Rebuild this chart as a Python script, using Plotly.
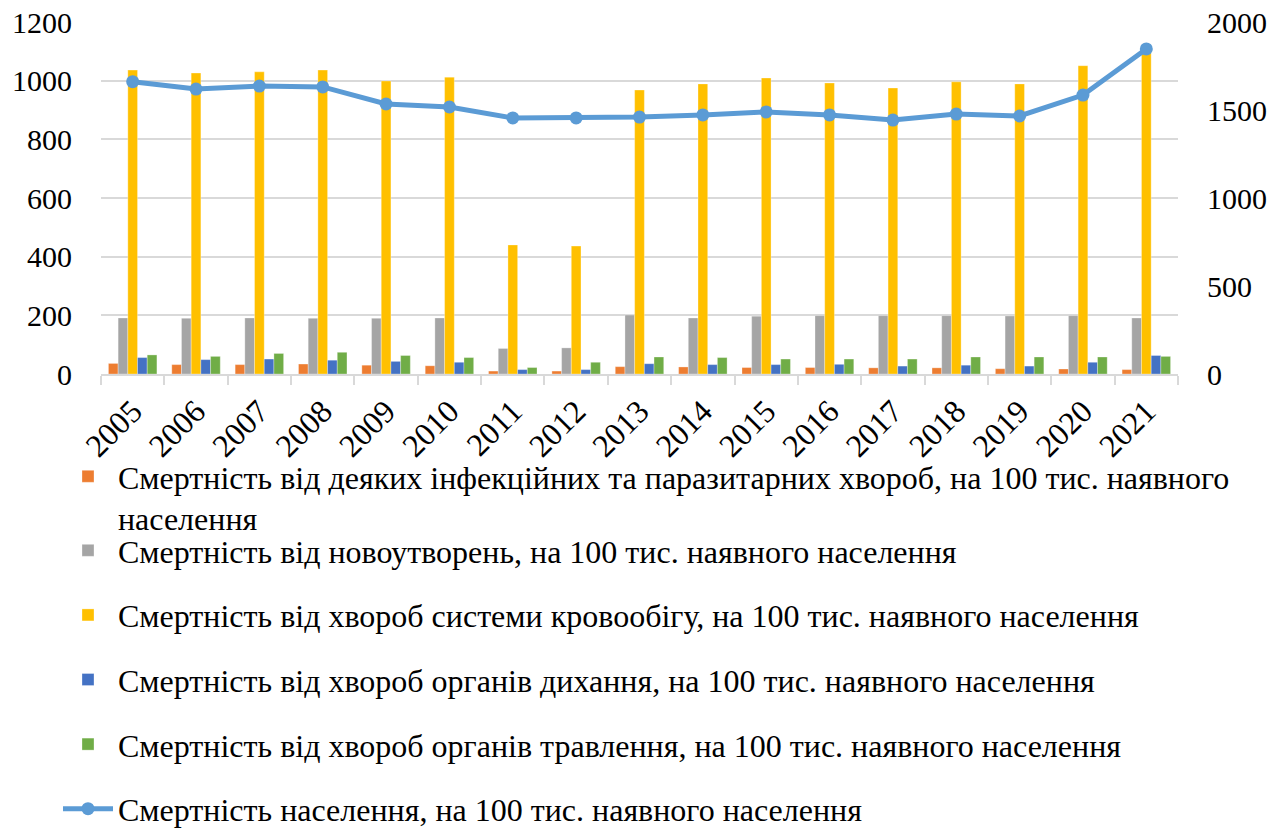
import plotly.graph_objects as go

years = [str(y) for y in range(2005, 2022)]
infect = [36, 32, 32, 34, 30, 28, 10, 10, 25, 24, 22, 22, 21, 21, 18, 17, 15]
neoplasm = [191, 190, 191, 190, 190, 191, 87, 89, 201, 191, 197, 199, 199, 199, 198, 199, 191]
circul = [1036, 1026, 1030, 1036, 999, 1012, 440, 436, 968, 989, 1009, 992, 975, 996, 989, 1051, 1110]
resp = [56, 49, 51, 47, 43, 40, 15, 15, 35, 32, 32, 33, 27, 30, 27, 40, 63]
digest = [65, 60, 70, 74, 63, 56, 22, 40, 58, 56, 51, 51, 51, 58, 58, 58, 60]
total = [1661, 1619, 1636, 1631, 1534, 1517, 1455, 1455, 1460, 1472, 1489, 1472, 1443, 1477, 1466, 1585, 1847]

names = [
    "Смертність від деяких інфекційних та паразитарних хвороб, на 100 тис. наявного<br>населення",
    "Смертність від новоутворень, на 100 тис. наявного населення",
    "Смертність від хвороб системи кровообігу, на 100 тис. наявного населення",
    "Смертність від хвороб органів дихання, на 100 тис. наявного населення",
    "Смертність від хвороб органів травлення, на 100 тис. наявного населення",
    "Смертність населення, на 100 тис. наявного населення",
]
colors = ["#ED7D31", "#A5A5A5", "#FFC000", "#4472C4", "#70AD47", "#5B9BD5"]
series = [infect, neoplasm, circul, resp, digest]

FONT = "Liberation Serif"
fig = go.Figure()
for i, vals in enumerate(series):
    fig.add_trace(go.Bar(
        x=years, y=vals, name=names[i], showlegend=True,
        marker=dict(color=colors[i], line=dict(color="rgba(255,255,255,0.6)", width=0.5)),
        legend="legend" if i == 0 else "legend2",
        legendgroup=f"g{i}",
    ))
fig.add_trace(go.Scatter(
    x=years, y=total, name=names[5], yaxis="y2", mode="lines+markers", showlegend=True,
    line=dict(color=colors[5], width=5),
    marker=dict(color=colors[5], size=13),
    legend="legend2", legendgroup="g5",
))

fig.update_layout(
    width=1286, height=829, showlegend=True,
    margin=dict(l=101, r=108, t=22, b=455, autoexpand=False),
    paper_bgcolor="white", plot_bgcolor="white",
    font=dict(family=FONT, size=30, color="black"),
    barmode="group", bargap=0.235, bargroupgap=0,
    xaxis=dict(type="category", range=[-0.5, 16.5], tickangle=-45, ticks="outside",
               tickson="boundaries", ticklen=9, tickcolor="#D9D9D9", tickwidth=1.5,
               showline=True, linecolor="#D9D9D9", linewidth=1.5,
               tickfont=dict(size=32), ticklabelstandoff=4, automargin=False),
    yaxis=dict(range=[0, 1200], dtick=200, gridcolor="#D9D9D9", gridwidth=1.5,
               zeroline=False, ticks="", ticklabelstandoff=28, tickfont=dict(size=30),
               automargin=False),
    yaxis2=dict(range=[0, 2000], dtick=500, overlaying="y", side="right", showgrid=False,
                zeroline=False, ticks="", ticklabelstandoff=28, tickfont=dict(size=30),
                automargin=False),
    legend=dict(xref="container", yref="container", x=0.0451, xanchor="left",
                y=0.4584, yanchor="top", valign="top",
                font=dict(size=32, family=FONT), bgcolor="rgba(0,0,0,0)", itemwidth=50),
    legend2=dict(xref="container", yref="container", x=0.0451, xanchor="left",
                 y=0.3691, yanchor="top",
                 font=dict(size=32, family=FONT), bgcolor="rgba(0,0,0,0)", itemwidth=50,
                 tracegroupgap=20, traceorder="grouped"),
)
fig.write_html("out.html", config={"displayModeBar": False},
               post_script="document.body.style.margin='0';")
